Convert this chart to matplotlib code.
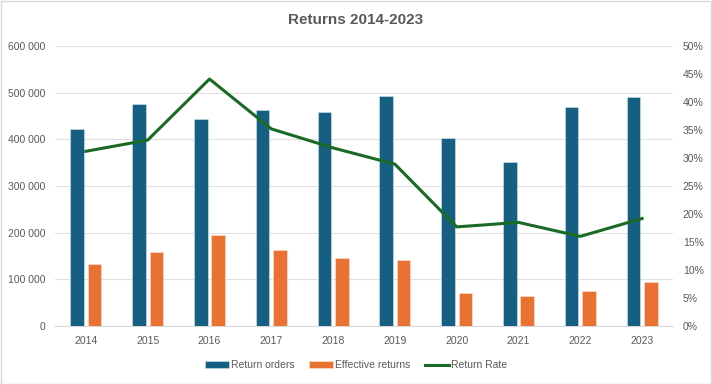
import matplotlib
matplotlib.use("Agg")
import matplotlib.pyplot as plt
import numpy as np
from matplotlib.ticker import FuncFormatter, MultipleLocator

years = ["2014", "2015", "2016", "2017", "2018", "2019", "2020", "2021", "2022", "2023"]
return_orders = [423000, 475000, 444000, 462000, 458000, 493000, 402000, 352000, 470000, 491000]
effective_returns = [132000, 158000, 196000, 163000, 146000, 142000, 70000, 64000, 75000, 95000]
return_rate = [0.312, 0.332, 0.441, 0.352, 0.318, 0.289, 0.177, 0.185, 0.160, 0.192]

plt.rcParams['font.family'] = ['Liberation Sans', 'DejaVu Sans']
txt = '#595959'

fig = plt.figure(figsize=(7.12, 3.84), dpi=100)
ax = fig.add_axes([55/712, 1-326/384, 618/712, 280/384])
ax2 = ax.twinx()

x = np.arange(len(years))
w = 0.22
off = 0.14
ax.bar(x - off, return_orders, w, color='#156082', edgecolor='#d9e6ee', linewidth=0.4, label='Return orders', zorder=3)
ax.bar(x + off, effective_returns, w, color='#E97132', edgecolor='#fbe3d6', linewidth=0.4, label='Effective returns', zorder=3)
ax2.plot(x, return_rate, color='#196B24', linewidth=2.2, label='Return Rate', zorder=4)

ax.set_xlim(-0.5, len(years) - 0.5)
ax.set_ylim(0, 600000)
ax.yaxis.set_major_locator(MultipleLocator(100000))
ax.yaxis.set_major_formatter(FuncFormatter(lambda v, p: f"{int(v):,}".replace(",", " ")))
ax2.set_ylim(0, 0.5)
ax2.yaxis.set_major_locator(MultipleLocator(0.05))
ax2.yaxis.set_major_formatter(FuncFormatter(lambda v, p: f"{v*100:.0f}%"))

ax.set_xticks(x)
ax.set_xticklabels(years)
ax.grid(axis='y', color='#E0E0E0', linewidth=0.8, zorder=0)
ax.set_axisbelow(True)
for a in (ax, ax2):
    for s in a.spines.values():
        s.set_visible(False)
    a.tick_params(length=0, colors=txt, labelsize=7.5)
ax.spines['bottom'].set_visible(True)
ax.spines['bottom'].set_color('#D9D9D9')
ax.tick_params(axis='y', pad=7)
ax.tick_params(axis='x', pad=7)
ax2.tick_params(axis='y', pad=7)

fig.text(0.5, 1-20/384, "Returns 2014-2023", ha='center', va='center', fontsize=11, fontweight='bold', color=txt)

h1, l1 = ax.get_legend_handles_labels()
h2, l2 = ax2.get_legend_handles_labels()
fig.legend(h1 + h2, l1 + l2, loc='center', bbox_to_anchor=(0.5, 1-365/384), ncol=3, frameon=False,
           fontsize=7.5, labelcolor=txt, handlelength=2.3, handleheight=0.6, columnspacing=1.4, handletextpad=0.2)

fig.patches.append(plt.Rectangle((0.001, 0.001), 0.997, 0.997, transform=fig.transFigure, fill=False, edgecolor='#D9D9D9', linewidth=1))

fig.savefig("out.png", dpi=100)
